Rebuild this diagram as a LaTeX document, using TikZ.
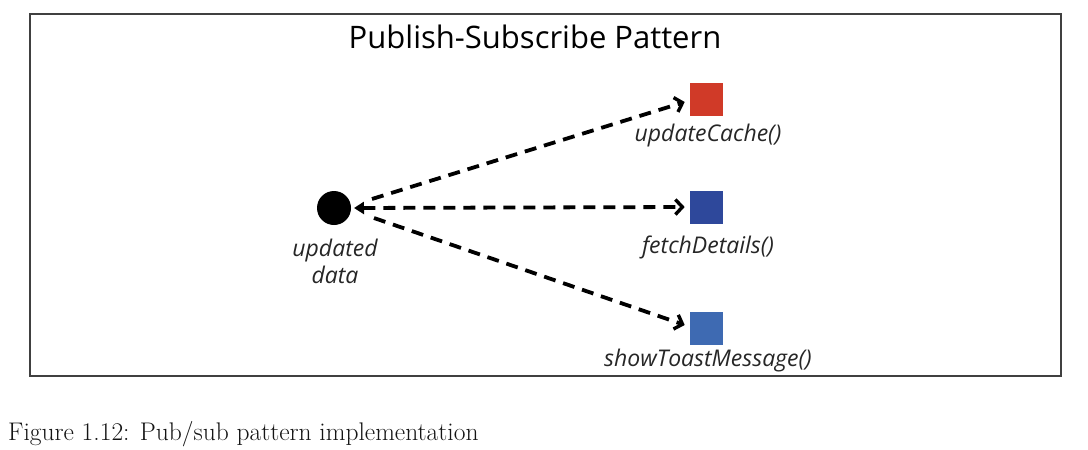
\documentclass[tikz,border=0pt]{standalone}
\usepackage{fontspec}
\setsansfont{Open Sans}
\usepackage{tikz}
\usepackage{xcolor}
\usetikzlibrary{positioning,arrows.meta,shapes,calc}

\definecolor{cacheRed}{RGB}{208,58,40}
\definecolor{fetchBlue}{RGB}{46,72,155}
\definecolor{toastBlue}{RGB}{62,106,178}

\tikzset{
    subscriber/.style={draw=white,line width=0.6pt,minimum size=34pt,inner sep=0pt},
    fnlabel/.style={font=\sffamily\itshape\fontsize{23}{26}\selectfont,text=black!85},
    publine/.style={line width=3.8pt,dash pattern=on 12pt off 8pt,-{Straight Barb[length=7pt,width=15pt,line width=3.4pt]}}
}

\begin{document}
\begin{tikzpicture}[x=1pt,y=-1pt]
    \useasboundingbox (0,0) rectangle (1088,450);

    % Frame and title
    \draw[black!75,line width=1.4pt] (30,14) rectangle (1061,376);
    \node[font=\sffamily\fontsize{31}{34}\selectfont] (title) at (535,37) {Publish-Subscribe Pattern};

    % Publisher (black circle)
    \node[circle,fill=black,minimum size=34pt,inner sep=0pt] (pub) at (334,208) {};
    \node[fnlabel,align=center] (publbl) at (335,261) {updated\\[1pt]data};

    % Subscribers (coloured squares)
    \node[subscriber,fill=cacheRed] (cache) at (706,99) {};
    \node[fnlabel] (cachelbl) at (708,136) {updateCache()};

    \node[subscriber,fill=fetchBlue] (fetch) at (706,207) {};
    \node[fnlabel] (fetchlbl) at (708,247) {fetchDetails()};

    \node[subscriber,fill=toastBlue] (toast) at (706,328) {};
    \node[fnlabel] (toastlbl) at (708,361) {showToastMessage()};

    % Dashed notifications
    \draw[publine] ($(pub)+(38,-9)$) -- ($(cache.west)+(-4,3)$);
    \draw[publine,{Triangle[length=10pt,width=12pt]}-{Straight Barb[length=7pt,width=15pt,line width=3.4pt]}] ($(pub)+(20,0)$) -- ($(fetch.west)+(-4,0)$);
    \draw[publine] ($(pub)+(40,10)$) -- ($(toast.west)+(-4,-3)$);

    % Caption
    \node[anchor=base west,font=\fontsize{25.5}{28}\selectfont,text=black!92,inner sep=0pt] (caption) at (8,440) {Figure 1.12: Pub/sub pattern implementation};
\end{tikzpicture}
\end{document}
